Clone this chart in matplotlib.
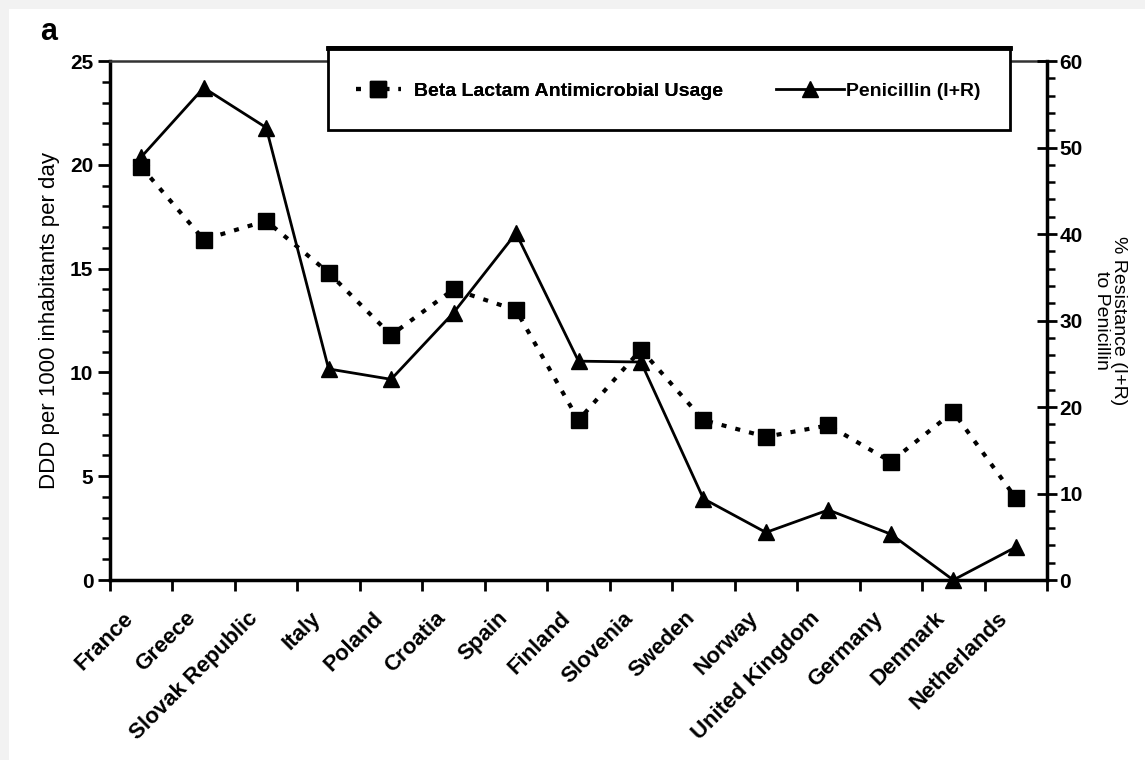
import numpy as np
import matplotlib
matplotlib.use("Agg")
import matplotlib.pyplot as plt
from matplotlib.patches import Rectangle
from matplotlib.ticker import MultipleLocator

plt.rcParams['font.family'] = ['Liberation Sans', 'DejaVu Sans']

countries = ["France", "Greece", "Slovak Republic", "Italy", "Poland", "Croatia",
             "Spain", "Finland", "Slovenia", "Sweden", "Norway", "United Kingdom",
             "Germany", "Denmark", "Netherlands"]
# DDD per 1000 inhabitants per day (left axis)
beta_lactam = [19.9, 16.4, 17.3, 14.8, 11.8, 14.0, 13.0, 7.7, 11.1, 7.7, 6.9, 7.45, 5.7, 8.1, 3.95]
# % resistance (I+R) to penicillin (right axis)
penicillin = [48.9, 56.9, 52.3, 24.4, 23.2, 30.9, 40.1, 25.3, 25.2, 9.4, 5.5, 8.1, 5.3, 0.0, 3.8]

fig = plt.figure(figsize=(11.45, 7.6), dpi=100)
fig.patch.set_facecolor('#f2f2f2')
fig.patches.append(Rectangle((9/1145, 0), 1, 1 - 9/760, transform=fig.transFigure,
                             facecolor='white', edgecolor='none', zorder=-10))

ax = fig.add_axes([110/1145, 1 - 580/760, (1047 - 110)/1145, (580 - 61)/760])
ax.set_facecolor('none')
x = np.arange(len(countries)) + 0.5

ax.plot(x, beta_lactam, color='black', linestyle=(0, (1.2, 2.2)), linewidth=3,
        marker='s', markersize=11, label='Beta Lactam Antimicrobial Usage', clip_on=False)
ax.set_xlim(0, len(countries))
ax.set_ylim(0, 25)
ax.yaxis.set_major_locator(MultipleLocator(5))
ax.yaxis.set_minor_locator(MultipleLocator(1))
ax.set_xticks(np.arange(len(countries) + 1))
ax.set_xticklabels([])
# labels sit a little left of the category centre, as in the original
ax.set_xticks(x - 0.3, minor=True)
ax.set_xticklabels(countries, minor=True, rotation=45, ha='right', va='top',
                   fontsize=16, fontweight='bold', rotation_mode='anchor')
ax.tick_params(axis='x', which='major', direction='out', length=8, width=2)
ax.tick_params(axis='x', which='minor', length=0, pad=20)
ax.tick_params(axis='y', which='major', direction='out', length=9, width=2,
               labelsize=15, pad=3)
ax.tick_params(axis='y', which='minor', direction='out', length=6, width=1.8)
for lab in ax.get_yticklabels():
    lab.set_fontweight('bold')
ax.set_ylabel('DDD per 1000 inhabitants per day', fontsize=16, labelpad=7)
for s in ['left', 'bottom', 'right']:
    ax.spines[s].set_linewidth(2.5)
ax.spines['top'].set_linewidth(1.8)
ax.spines['top'].set_color('#333333')

ax2 = ax.twinx()
ax2.plot(x, penicillin, color='black', linestyle='-', linewidth=2,
         marker='^', markersize=11, label='Penicillin (I+R)', clip_on=False)
ax2.set_ylim(0, 60)
ax2.yaxis.set_major_locator(MultipleLocator(10))
ax2.yaxis.set_minor_locator(MultipleLocator(2))
ax2.tick_params(axis='y', which='major', direction='inout', length=14, width=2,
                labelsize=15, pad=2)
ax2.tick_params(axis='y', which='minor', direction='out', length=6, width=1.8)
for lab in ax2.get_yticklabels():
    lab.set_fontweight('bold')
ax2.set_ylabel('% Resistance (I+R)\nto Penicillin', fontsize=14, rotation=270,
               labelpad=32, linespacing=1.0)
for s in ax2.spines.values():
    s.set_visible(False)

# legend box
box = Rectangle((328/1145, 1 - 130/760), (1010 - 328)/1145, (130 - 47)/760,
                transform=fig.transFigure, facecolor='white', edgecolor='black',
                linewidth=2, zorder=5)
fig.patches.append(box)
fig.add_artist(plt.Line2D([328/1145, 1010/1145], [1 - 48/760, 1 - 48/760],
                          transform=fig.transFigure, color='black', linewidth=3.5, zorder=6))
h1, l1 = ax.get_legend_handles_labels()
h2, l2 = ax2.get_legend_handles_labels()
leg1 = fig.legend(h1, l1, loc='center left', bbox_to_anchor=(356/1145, 1 - 91/760),
                  frameon=False, handlelength=2.3, handletextpad=0.7,
                  prop={'weight': 'bold', 'size': 14}, borderpad=0, borderaxespad=0)
leg2 = fig.legend(h2, l2, loc='center left', bbox_to_anchor=(776/1145, 1 - 91/760),
                  frameon=False, handlelength=3.5, handletextpad=0.1,
                  prop={'weight': 'bold', 'size': 14}, borderpad=0, borderaxespad=0)
leg1.set_zorder(7)
leg2.set_zorder(7)
fig.add_artist(leg1)

fig.text(40/1145, 1 - 32/760, 'a', fontsize=22, fontweight='bold', va='center', ha='left')

fig.savefig('out.png', dpi=100, facecolor=fig.get_facecolor())
